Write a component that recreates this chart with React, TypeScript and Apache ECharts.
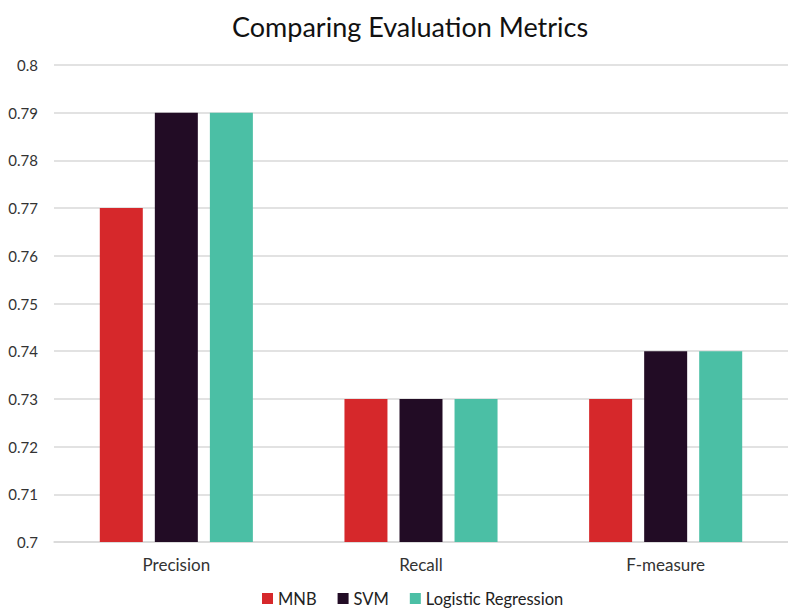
import React, { useEffect, useRef } from "react";
import * as echarts from "echarts";

const categories = ["Precision", "Recall", "F-measure"];
const mnb = [0.77, 0.73, 0.73];
const svm = [0.79, 0.73, 0.74];
const logisticRegression = [0.79, 0.73, 0.74];
const seriesNames = ["MNB", "SVM", "Logistic Regression"];
const seriesColors = ["#D6282B", "#220C25", "#4BBFA5"];

const FONT = "Lato, 'Open Sans', sans-serif";

export default function App() {
  const ref = useRef<HTMLDivElement>(null);

  useEffect(() => {
    if (!ref.current) return;
    const chart = echarts.init(ref.current, undefined, { renderer: "svg" });
    const values = [mnb, svm, logisticRegression];
    chart.setOption({
      animation: false,
      backgroundColor: "#ffffff",
      title: {
        text: "Comparing Evaluation Metrics",
        left: 227,
        top: 8,
        textStyle: {
          fontFamily: FONT,
          fontSize: 27,
          fontWeight: "normal",
          color: "#111111",
        },
      },
      legend: {
        data: seriesNames,
        left: 262,
        top: 590,
        padding: 0,
        itemWidth: 11,
        itemHeight: 11,
        itemGap: 21,
        icon: "rect",
        textStyle: { fontFamily: FONT, fontSize: 16.5, color: "#222222" },
      },
      grid: { left: 54, right: -12, top: 65, bottom: 67, containLabel: false },
      xAxis: {
        type: "category",
        data: categories,
        axisLine: { show: true, lineStyle: { color: "#D9D9D9", width: 1.5 } },
        axisTick: { show: false },
        axisLabel: { fontFamily: FONT, fontSize: 17, color: "#333333", margin: 14 },
      },
      yAxis: {
        type: "value",
        min: 0.7,
        max: 0.8,
        interval: 0.01,
        axisLine: { show: false },
        axisTick: { show: false },
        splitLine: { lineStyle: { color: "#D9D9D9", width: 1.5 } },
        axisLabel: {
          fontFamily: FONT,
          fontSize: 15,
          color: "#333333",
          margin: 16,
          formatter: (v: number) => String(+v.toFixed(2)),
        },
      },
      series: seriesNames.map((name, i) => ({
        name,
        type: "bar",
        data: values[i],
        barWidth: 43,
        barGap: "28%",
        itemStyle: { color: seriesColors[i] },
      })),
    });
    return () => chart.dispose();
  }, []);

  return <div ref={ref} style={{ width: 788, height: 609, position: "absolute", left: 0, top: 0 }} />;
}
